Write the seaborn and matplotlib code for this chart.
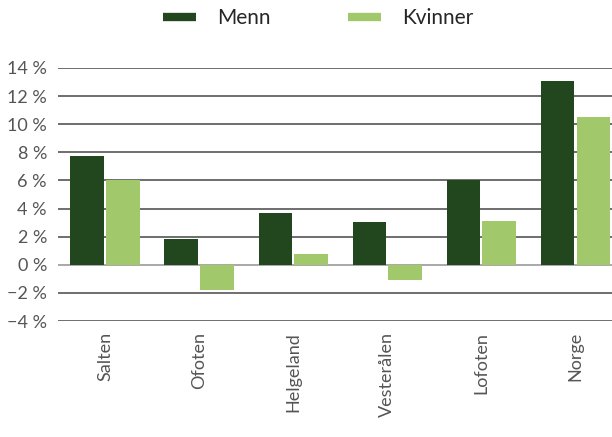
import matplotlib
matplotlib.use("Agg")
import matplotlib.pyplot as plt
import pandas as pd
import seaborn as sns
from matplotlib.lines import Line2D

regions = ["Salten", "Ofoten", "Helgeland", "Vesterålen", "Lofoten", "Norge"]
menn = [7.75, 1.8, 3.7, 3.05, 6.0, 13.1]
kvinner = [6.05, -1.8, 0.8, -1.05, 3.15, 10.5]
ticks = [-4, -2, 0, 2, 4, 6, 8, 10, 12, 14]

dark = "#22471f"
light = "#a1c96c"

df = pd.DataFrame({
    "region": regions * 2,
    "kjonn": ["Menn"] * len(regions) + ["Kvinner"] * len(regions),
    "endring": menn + kvinner,
})

sns.set_style("white")
plt.rcParams["font.family"] = ["Lato", "DejaVu Sans"]

fig = plt.figure(figsize=(6.12, 4.37), dpi=100)
ax = fig.add_axes([58 / 612, 1 - 321 / 437, 564.5 / 612, 253 / 437])

sns.barplot(data=df, x="region", y="endring", hue="kjonn",
            palette={"Menn": dark, "Kvinner": light},
            width=0.76, gap=0.06, saturation=1, legend=False, ax=ax,
            zorder=3, linewidth=0, edgecolor="none")

# gridlines behind the bars
for t in ticks:
    ax.axhline(t, color="#555555" if t != 0 else "#999999", lw=1.2, zorder=1)

ax.set_ylim(-4, 14)
ax.set_xlim(-0.5, 5.5)
ax.set_yticks(ticks)
ax.set_yticklabels([f"{t} %".replace("-", "\u2212") for t in ticks],
                   fontsize=13, color="#555555")
ax.set_xticks(range(len(regions)))
ax.set_xticklabels(regions, rotation=90, fontsize=13, color="#555555")
ax.tick_params(axis="y", length=0, pad=8)
ax.tick_params(axis="x", length=0, pad=8)
ax.set_xlabel("")
ax.set_ylabel("")
for s in ax.spines.values():
    s.set_visible(False)

handles = [Line2D([], [], color=dark, lw=6, solid_capstyle="butt"),
           Line2D([], [], color=light, lw=6, solid_capstyle="butt")]
fig.legend(handles, ["Menn", "Kvinner"], loc="center", bbox_to_anchor=(0.52, 0.958),
           ncol=2, frameon=False, fontsize=15, handlelength=1.6,
           columnspacing=3.7, handletextpad=1.0)

fig.savefig("out.png", dpi=100)
